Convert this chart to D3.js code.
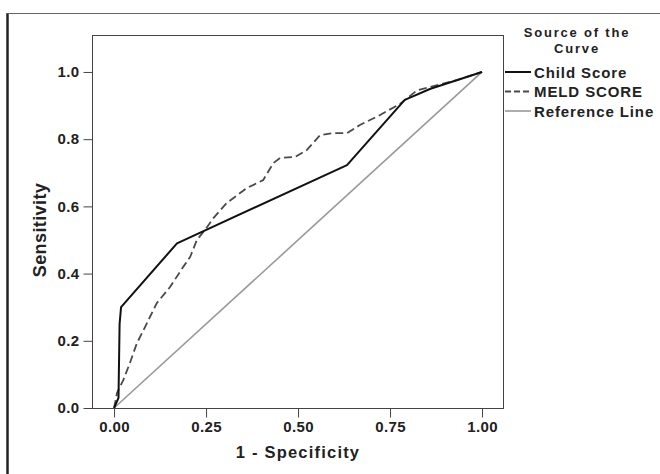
<!DOCTYPE html>
<html>
<head>
<meta charset="utf-8">
<style>
  body { margin: 0; background: #fff; }
  text { font-family: "Liberation Sans", Arial, sans-serif; font-weight: bold; fill: #222; }
</style>
</head>
<body>
<div id="chart"></div>
<script src="https://d3js.org/d3.v7.min.js"></script>
<script>
// ROC data
var childFpr = [0, 0.012, 0.015, 0.019, 0.171, 0.633, 0.79, 0.86, 1];
var childTpr = [0, 0.03, 0.25, 0.30, 0.49, 0.723, 0.917, 0.95, 1];

var meldFpr = [0, 0.008, 0.025, 0.043, 0.062, 0.08, 0.116, 0.152, 0.188, 0.207, 0.225, 0.247, 0.27, 0.306, 0.36, 0.405, 0.433, 0.451, 0.492, 0.524, 0.56, 0.595, 0.633, 0.668, 0.723, 0.777, 0.823, 0.859, 0.932, 1];
var meldTpr = [0, 0.045, 0.083, 0.134, 0.193, 0.232, 0.312, 0.36, 0.42, 0.45, 0.5, 0.53, 0.565, 0.61, 0.654, 0.678, 0.729, 0.744, 0.747, 0.768, 0.812, 0.818, 0.818, 0.842, 0.872, 0.905, 0.945, 0.955, 0.976, 1];

var refFpr = [0, 1];
var refTpr = [0, 1];

var xTicks = [0, 0.25, 0.5, 0.75, 1];
var yTicks = [0, 0.2, 0.4, 0.6, 0.8, 1];

var legendTitle = ["Source of the", "Curve"];
var legendNames = ["Child Score", "MELD SCORE", "Reference Line"];

// plot box
var W = 660, H = 474;
var box = {left: 92, top: 35, right: 503, bottom: 408};

var svg = d3.select("#chart").append("svg")
  .attr("width", W).attr("height", H);

// outer frame (left + top only)
svg.append("line").attr("x1", 7.5).attr("x2", 7.5).attr("y1", 13).attr("y2", H)
  .attr("stroke", "#222").attr("stroke-width", 2.5);
svg.append("line").attr("x1", 7).attr("x2", W).attr("y1", 13.5).attr("y2", 13.5)
  .attr("stroke", "#666").attr("stroke-width", 1);

var x = d3.scaleLinear().domain([-0.06, 1.057]).range([box.left, box.right]);
var y = d3.scaleLinear().domain([0, 1.11]).range([box.bottom, box.top]);

// frame of plot area
svg.append("rect")
  .attr("x", box.left + 0.5).attr("y", box.top + 0.5)
  .attr("width", box.right - box.left).attr("height", box.bottom - box.top)
  .attr("fill", "none").attr("stroke", "#444").attr("stroke-width", 1);

// axes
var xAxis = svg.append("g")
  .attr("transform", "translate(0," + (box.bottom + 0.5) + ")")
  .call(d3.axisBottom(x).tickValues(xTicks).tickFormat(d3.format(".2f")).tickSize(9).tickPadding(4));
var yAxis = svg.append("g")
  .attr("transform", "translate(" + (box.left + 0.5) + ",0)")
  .call(d3.axisLeft(y).tickValues(yTicks).tickFormat(d3.format(".1f")).tickSize(9).tickPadding(4));

[xAxis, yAxis].forEach(function(g) {
  g.select(".domain").remove();
  g.selectAll(".tick line").attr("stroke", "#444");
  g.selectAll(".tick text")
    .attr("fill", "#222")
    .style("font-size", "15px")
    .style("letter-spacing", "0.4px")
    .style("font-family", '"Liberation Sans", Arial, sans-serif')
    .style("font-weight", "bold");
});

// axis titles
svg.append("text")
  .attr("x", x(0.5)).attr("y", 458)
  .attr("text-anchor", "middle")
  .style("font-size", "16.5px").style("letter-spacing", "1.2px")
  .text("1 - Specificity");

svg.append("text")
  .attr("transform", "translate(46," + 230 + ") rotate(-90)")
  .attr("text-anchor", "middle")
  .style("font-size", "18px").style("letter-spacing", "0.4px")
  .text("Sensitivity");

// curves
var line = d3.line()
  .x(function(d) { return x(d[0]); })
  .y(function(d) { return y(d[1]); });

function pairs(a, b) { return a.map(function(v, i) { return [v, b[i]]; }); }

var series = [
  {name: legendNames[0], pts: pairs(childFpr, childTpr), color: "#111", width: 2, dash: null},
  {name: legendNames[1], pts: pairs(meldFpr, meldTpr), color: "#4a4a4a", width: 1.8, dash: "8,4"},
  {name: legendNames[2], pts: pairs(refFpr, refTpr), color: "#999", width: 1.6, dash: null}
];

// draw reference first, then meld, then child on top
series.slice().reverse().forEach(function(s) {
  svg.append("path")
    .datum(s.pts)
    .attr("d", line)
    .attr("fill", "none")
    .attr("stroke", s.color)
    .attr("stroke-width", s.width)
    .attr("stroke-dasharray", s.dash)
    .attr("stroke-linejoin", "round");
});

// legend
legendTitle.forEach(function(t, i) {
  svg.append("text")
    .attr("x", 577).attr("y", 37 + i * 15.5)
    .attr("text-anchor", "middle")
    .style("font-size", "13px").style("letter-spacing", "1.8px")
    .text(t);
});

series.forEach(function(s, i) {
  var yy = 72 + i * 19.5;
  svg.append("line")
    .attr("x1", 505).attr("x2", 531).attr("y1", yy).attr("y2", yy)
    .attr("stroke", s.color).attr("stroke-width", s.width)
    .attr("stroke-dasharray", s.dash ? "6,3" : null);
  svg.append("text")
    .attr("x", 534).attr("y", yy + 5.5)
    .style("font-size", "15px").style("letter-spacing", "0.9px")
    .text(s.name);
});
</script>
</body>
</html>
